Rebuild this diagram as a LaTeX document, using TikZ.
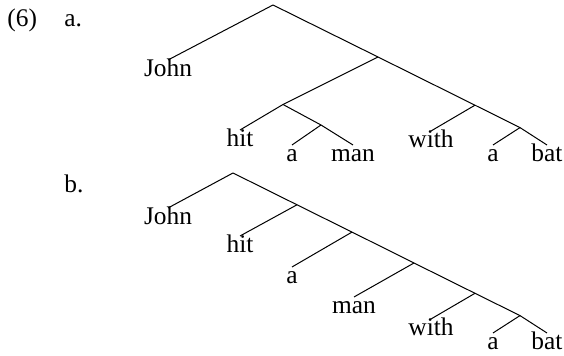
\documentclass[tikz,border=0pt]{standalone}
\usepackage{fontspec}
\setmainfont{Liberation Serif}
\begin{document}
\begin{tikzpicture}[x=0.5pt,y=-0.5pt,
  leaf/.style={anchor=base,inner sep=0pt,outer xsep=0pt,outer ysep=1.5pt,text height=0.7em,font=\fontsize{12.7}{15}\selectfont},
  lbl/.style={anchor=base west,inner sep=0pt,font=\fontsize{12.7}{15}\selectfont},
  branch/.style={line width=0.5pt}]
\useasboundingbox[fill=white] (0,0) rectangle (564,356);
% labels
\node[lbl] (num) at (7,27) {(6)};
\node[lbl] (la) at (64,27) {a.};
\node[lbl] (lb) at (64,193) {b.};
% tree a
\coordinate (aR) at (273,5);
\coordinate (aX) at (378,57);
\coordinate (aHM) at (283,104.5);
\coordinate (aAM) at (321,125);
\coordinate (aW) at (475,105.2);
\coordinate (aAB) at (520,127.6);
\node[leaf] (aJohn) at (168,77) {John};
\node[leaf] (ahit) at (240,147) {hit};
\node[leaf] (aa1) at (292,162) {a};
\node[leaf] (aman) at (353,162) {man};
\node[leaf] (awith) at (431,148) {with};
\node[leaf] (aa2) at (493,162) {a};
\node[leaf] (abat) at (547,162) {bat};
\draw[branch] (aR) -- (aJohn.north);
\draw[branch] (aR) -- (aX) -- (aW) -- (aAB) -- (abat.north);
\draw[branch] (aX) -- (aHM) -- (ahit.north);
\draw[branch] (aHM) -- (aAM) -- (aman.north);
\draw[branch] (aAM) -- (aa1.north);
\draw[branch] (aW) -- (awith.north);
\draw[branch] (aAB) -- (aa2.north);
% tree b
\coordinate (bR) at (233,173);
\coordinate (bN1) at (297,204.8);
\coordinate (bN2) at (352,232.1);
\coordinate (bN3) at (414,263);
\coordinate (bN4) at (475,293.3);
\coordinate (bN5) at (520,315.6);
\node[leaf] (bJohn) at (168,225) {John};
\node[leaf] (bhit) at (240,253) {hit};
\node[leaf] (ba1) at (292,284) {a};
\node[leaf] (bman) at (354,314) {man};
\node[leaf] (bwith) at (431,336) {with};
\node[leaf] (ba2) at (493,350) {a};
\node[leaf] (bbat) at (547,350) {bat};
\draw[branch] (bR) -- (bJohn.north);
\draw[branch] (bR) -- (bN1) -- (bN2) -- (bN3) -- (bN4) -- (bN5) -- (bbat.north);
\draw[branch] (bN1) -- (bhit.north);
\draw[branch] (bN2) -- (ba1.north);
\draw[branch] (bN3) -- (bman.north);
\draw[branch] (bN4) -- (bwith.north);
\draw[branch] (bN5) -- (ba2.north);
\end{tikzpicture}
\end{document}
